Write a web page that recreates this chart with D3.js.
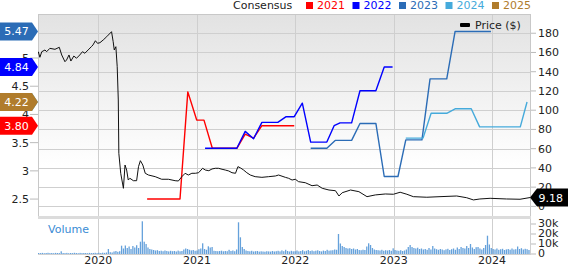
<!DOCTYPE html>
<html><head><meta charset="utf-8">
<script src="https://cdn.jsdelivr.net/npm/d3@7"></script>
<style>
body{margin:0;background:#fff;overflow:hidden}
text{font-family:"DejaVu Sans",Verdana,sans-serif;font-size:11px}
</style>
</head><body>
<svg id="c" width="568" height="265"></svg>
<script>
// ---------------- DATA ----------------
const priceDates = ["2019-05-23","2019-05-29","2019-06-05","2019-06-17","2019-06-23","2019-07-05","2019-07-24","2019-08-09","2019-08-18","2019-08-30","2019-09-05","2019-09-14","2019-09-21","2019-10-02","2019-10-12","2019-10-24","2019-11-03","2019-11-12","2019-11-24","2019-12-06","2019-12-12","2019-12-21","2019-12-29","2020-01-07","2020-01-19","2020-02-01","2020-02-19","2020-02-25","2020-02-29","2020-03-06","2020-03-11","2020-03-15","2020-03-17","2020-03-24","2020-04-03","2020-04-09","2020-04-15","2020-04-21","2020-04-27","2020-05-10","2020-05-22","2020-05-29","2020-06-05","2020-06-14","2020-06-23","2020-07-05","2020-07-30","2020-08-23","2020-09-17","2020-10-12","2020-10-24","2020-11-06","2020-11-18","2020-11-30","2020-12-13","2020-12-26","2021-01-07","2021-01-22","2021-02-01","2021-02-14","2021-02-26","2021-03-10","2021-03-22","2021-04-04","2021-04-16","2021-04-29","2021-05-11","2021-05-24","2021-06-02","2021-06-12","2021-06-23","2021-07-05","2021-07-18","2021-08-05","2021-08-30","2021-09-24","2021-10-19","2021-10-31","2021-11-25","2021-12-07","2021-12-20","2022-01-01","2022-01-13","2022-02-07","2022-03-04","2022-03-23","2022-04-11","2022-05-06","2022-05-30","2022-06-12","2022-06-24","2022-07-25","2022-08-25","2022-09-24","2022-10-25","2022-12-01","2022-12-31","2023-01-25","2023-02-19","2023-03-15","2023-05-04","2023-06-22","2023-08-23","2023-09-29","2023-10-24","2023-11-17","2023-12-25","2024-02-24","2024-04-14","2024-05-21"];
const priceValues = [160.8,155.0,160.8,162.6,160.8,164.3,163.3,165.4,157.4,150.4,152.2,157.4,151.1,156.3,154.0,157.4,160.8,159.2,162.6,166.0,167.8,172.2,169.5,170.2,173.0,176.4,181.6,171.2,162.6,166.0,145.2,110.6,55.2,34.4,18.8,43.0,37.8,27.4,29.2,26.7,26.7,41.3,47.5,43.0,34.4,32.6,30.9,28.2,28.2,26.7,26.4,30.9,34.4,32.6,34.4,34.4,35.0,39.6,37.8,37.1,38.9,39.6,39.6,38.6,37.8,36.8,35.0,34.4,41.3,39.9,37.8,35.0,32.6,30.9,30.2,30.9,31.6,32.6,30.2,29.2,27.4,28.2,25.7,24.6,21.5,22.2,18.8,17.0,16.3,10.8,14.2,17.0,15.3,10.1,11.9,12.9,12.6,14.7,12.6,10.1,9.5,10.1,10.8,9.0,6.7,7.7,8.4,7.7,7.4,9.18];

const seriesNames  = ["2021","2022","2023","2024","2025"];
const seriesColors = ["#ff0000","#0000ff","#2b6cb6","#45aadb","#b07c2c"];

const eps2021Dates  = ["2020-06-30","2020-10-30","2020-11-28","2020-12-31","2021-01-27","2021-02-27","2021-05-29","2021-06-29","2021-07-30","2021-08-30","2021-12-28"];
const eps2021Values = [2.50,2.50,4.40,3.90,3.90,3.40,3.40,3.65,3.58,3.80,3.80];

const eps2022Dates  = ["2021-01-31","2021-05-29","2021-06-29","2021-07-30","2021-08-30","2021-10-28","2021-11-28","2021-12-28","2022-01-27","2022-02-27","2022-04-28","2022-05-25","2022-06-16","2022-07-29","2022-08-29","2022-10-27","2022-11-27","2022-12-28"];
const eps2022Values = [3.40,3.40,3.70,3.57,3.86,3.86,3.96,3.96,4.20,3.51,3.51,3.80,3.85,3.85,4.42,4.42,4.84,4.84];

const eps2023Dates  = ["2022-02-27","2022-04-28","2022-05-29","2022-07-29","2022-08-29","2022-10-27","2022-11-27","2023-01-17","2023-02-15","2023-04-16","2023-05-16","2023-07-17","2023-08-17","2023-12-28"];
const eps2023Values = [3.40,3.40,3.54,3.54,3.84,3.84,2.90,2.90,3.55,3.55,4.63,4.63,5.47,5.47];

const eps2024Dates  = ["2023-02-15","2023-04-20","2023-05-20","2023-07-17","2023-08-17","2023-10-16","2023-11-16","2024-04-15","2024-05-10"];
const eps2024Values = [3.58,3.58,4.02,4.02,4.10,4.10,3.78,3.78,4.22];

const eps2025Dates  = ["2024-05-10"];
const eps2025Values = [4.22];

// weekly volume (thousands), weeks starting 2019-05-24
const volumeStart = "2019-05-24";
const volumeValues = [
 1.0,0.9,1.1,0.8,1.0,1.2,0.9,1.0,0.8,1.1,1.0,0.9,2.7,1.0,0.9,1.1,0.8,1.0,0.9,1.2,1.0,0.8,1.1,0.9,1.0,1.0,0.8,1.1,0.9,1.0,1.2,0.9,
 1.2,1.0,1.3,1.1,1.5,5.0,1.8,1.5,2.5,3.0,2.2,2.8,8.3,5.5,8.5,6.0,7.5,5.0,8.0,6.5,8.8,6.0,12.3,32.7,12.3,10.0,6.5,5.0,4.5,4.0,3.5,3.8,3.0,3.3,2.8,3.5,3.0,2.6,3.2,2.8,3.0,2.5,3.4,2.7,3.0,4.5,5.5,5.0,4.2,3.6,4.0,3.2,
 3.5,4.8,5.5,10.7,5.0,4.2,7.7,6.5,7.0,3.2,3.0,2.8,3.0,3.3,2.7,3.0,2.8,4.2,3.0,3.5,2.8,4.5,31.7,16.7,7.0,5.0,3.5,3.0,2.7,3.2,2.5,2.8,3.0,2.4,2.7,2.5,2.3,2.8,2.6,2.4,3.0,2.5,2.8,3.2,2.6,3.6,2.8,4.2,3.0,2.5,3.2,2.7,
 2.8,3.5,2.6,3.0,3.8,2.7,3.2,4.0,3.0,3.5,2.8,3.3,3.7,3.0,2.6,3.4,3.0,4.2,3.3,3.6,3.8,4.5,4.2,20.0,10.5,8.0,7.0,6.0,5.5,5.8,5.0,5.5,4.5,5.0,4.0,3.8,4.3,4.0,7.5,10.7,9.0,6.0,4.5,4.0,3.8,3.5,4.2,3.3,3.8,3.5,4.0,3.2,
 5.7,4.0,3.5,3.2,3.8,3.0,3.5,4.5,7.0,9.0,7.0,6.0,5.5,6.3,5.0,5.5,4.5,5.0,4.2,6.0,4.5,8.0,5.5,4.8,4.2,5.0,4.5,3.8,4.6,5.2,4.0,4.8,5.5,4.2,6.5,5.0,7.0,6.0,5.5,8.0,6.0,10.0,6.5,5.0,6.8,7.0,5.5,4.5,6.0,9.0,18.3,9.5,
 6.0,5.0,4.5,5.5,4.2,4.8,5.2,4.0,4.6,5.0,4.3,5.5,4.5,4.8,7.5,5.0,5.8,4.5,5.2,4.8,4.0
];

const yearTicks   = ["2020","2021","2022","2023","2024"];
const priceTicks  = [0,20,40,60,80,100,120,140,160,180];
const epsTicks    = [2.5,3,3.5,4,4.5,5];
const volTicks    = [0,10,20,30];
const volTickLabels = ["0","10k","20k","30k"];

// ---------------- CHART ----------------
const P = {l:38, r:531, t:14, b:216, vt:219, vb:254};
const parse = d3.utcParse("%Y-%m-%d");
const svg = d3.select("#c");

const x = d3.scaleUtc().domain([parse("2019-05-22"), parse("2024-05-21")]).range([P.l, 530]);
const yP = d3.scaleLinear().domain([-10, 200]).range([P.b, P.t]);
const yE = d3.scaleLinear().domain([2.2, 5.78]).range([P.b, P.t]);
const yV = d3.scaleLinear().domain([0, 35]).range([P.vb, P.vt]);

const defs = svg.append("defs");
const g = defs.append("linearGradient").attr("id","bg").attr("x1",0).attr("y1",0).attr("x2",0).attr("y2",1);
g.append("stop").attr("offset","0%").attr("stop-color","#e2e2e2");
g.append("stop").attr("offset","75%").attr("stop-color","#ffffff");
defs.append("clipPath").attr("id","clipM").append("rect")
  .attr("x",P.l).attr("y",P.t).attr("width",P.r-P.l).attr("height",P.b-P.t);
defs.append("clipPath").attr("id","clipV").append("rect")
  .attr("x",P.l).attr("y",P.vt).attr("width",P.r-P.l).attr("height",P.vb-P.vt);

// backgrounds
svg.append("rect").attr("x",P.l).attr("y",P.t).attr("width",P.r-P.l).attr("height",P.b-P.t).attr("fill","url(#bg)");

// horizontal grid
svg.append("g").selectAll("line").data(priceTicks).join("line")
  .attr("x1",P.l).attr("x2",P.r).attr("y1",d=>Math.round(yP(d))+0.5).attr("y2",d=>Math.round(yP(d))+0.5)
  .attr("stroke","#cfcfcf");
// vertical grid
svg.append("g").selectAll("line").data(yearTicks).join("line")
  .attr("x1",d=>Math.round(x(parse(d+"-01-01")))+0.5).attr("x2",d=>Math.round(x(parse(d+"-01-01")))+0.5)
  .attr("y1",P.t).attr("y2",P.vb).attr("stroke","#cfcfcf");

// borders
svg.append("rect").attr("x",P.l+0.5).attr("y",P.t+0.5).attr("width",P.r-P.l-1).attr("height",P.b-P.t)
  .attr("fill","none").attr("stroke","#c8c8c8");
svg.append("rect").attr("x",P.l).attr("y",P.b).attr("width",P.r-P.l).attr("height",3).attr("fill","#dcdcdc");
svg.append("line").attr("x1",P.l).attr("x2",P.r).attr("y1",P.vb+0.5).attr("y2",P.vb+0.5).attr("stroke","#d0d0d0");
svg.append("line").attr("x1",P.r-0.5).attr("x2",P.r-0.5).attr("y1",P.vt).attr("y2",P.vb).attr("stroke","#d0d0d0");

// left ticks & labels
svg.append("g").selectAll("line").data(epsTicks).join("line")
  .attr("x1",30).attr("x2",P.l).attr("y1",d=>yE(d)).attr("y2",d=>yE(d)).attr("stroke","#bbb");
svg.append("g").selectAll("text").data(epsTicks).join("text")
  .attr("x",29).attr("y",d=>yE(d)).attr("dy","0.36em").attr("text-anchor","end").attr("fill","#222")
  .text(d=>d3.format("")(d));

// right ticks & labels
svg.append("g").selectAll("line").data(priceTicks).join("line")
  .attr("x1",P.r).attr("x2",P.r+5).attr("y1",d=>yP(d)).attr("y2",d=>yP(d)).attr("stroke","#bbb");
svg.append("g").selectAll("text").data(priceTicks).join("text")
  .attr("x",538).attr("y",d=>yP(d)).attr("dy","0.36em").attr("fill","#222").text(d=>d);
svg.append("g").selectAll("line").data(volTicks).join("line")
  .attr("x1",P.r).attr("x2",P.r+5).attr("y1",d=>yV(d)).attr("y2",d=>yV(d)).attr("stroke","#bbb");
svg.append("g").selectAll("text").data(volTicks).join("text")
  .attr("x",538).attr("y",d=>yV(d)-1).attr("dy","0.36em").attr("fill","#222").text((d,i)=>volTickLabels[i]);

// year labels
svg.append("g").selectAll("text").data(yearTicks).join("text")
  .attr("x",d=>x(parse(d+"-01-01"))).attr("y",263.5).attr("text-anchor","middle").attr("fill","#222").text(d=>d);

// volume
const vol = volumeValues.map((v,i)=>({date:d3.utcDay.offset(parse(volumeStart), 7*i), v}));
svg.append("g").attr("clip-path","url(#clipV)").selectAll("rect").data(vol).join("rect")
  .attr("x",d=>x(d.date)-0.6).attr("width",1.3)
  .attr("y",d=>yV(d.v)).attr("height",d=>yV(0)-yV(d.v))
  .attr("fill","#3f8ad2").attr("fill-opacity",0.8);
svg.append("text").attr("x",48).attr("y",232.5).attr("fill","#3a8bd4").text("Volume");

// consensus lines
const epsSeries = [
  {name:"2021", dates:eps2021Dates, values:eps2021Values},
  {name:"2022", dates:eps2022Dates, values:eps2022Values},
  {name:"2023", dates:eps2023Dates, values:eps2023Values},
  {name:"2024", dates:eps2024Dates, values:eps2024Values},
  {name:"2025", dates:eps2025Dates, values:eps2025Values}
].map((s,i)=>({...s, color:seriesColors[i], pts:s.dates.map((d,j)=>({date:parse(d), v:s.values[j]}))}));

const eLine = d3.line().x(d=>x(d.date)).y(d=>yE(d.v));
const gm = svg.append("g").attr("clip-path","url(#clipM)");
gm.selectAll("path.eps").data(epsSeries.filter(s=>s.pts.length>1)).join("path")
  .attr("class","eps").attr("d",s=>eLine(s.pts)).attr("fill","none")
  .attr("stroke",s=>s.color).attr("stroke-width",1.4).attr("stroke-linejoin","round");

// price line
const price = priceDates.map((d,i)=>({date:parse(d), v:priceValues[i]}));
gm.append("path").attr("d",d3.line().x(d=>x(d.date)).y(d=>yP(d.v))(price))
  .attr("fill","none").attr("stroke","#111").attr("stroke-width",1);

// legends
svg.append("text").attr("x",233).attr("y",9).attr("fill","#222").text("Consensus");
let lx = 306;
seriesNames.forEach((n,i)=>{
  svg.append("rect").attr("x",lx).attr("y",2).attr("width",7).attr("height",7).attr("fill",seriesColors[i]);
  const t = svg.append("text").attr("x",lx+11).attr("y",9).attr("fill",seriesColors[i]).text(n);
  lx += 11 + t.node().getComputedTextLength() + 7.5;
});
svg.append("rect").attr("x",460).attr("y",23).attr("width",10).attr("height",4).attr("rx",1).attr("fill","#000");
svg.append("text").attr("x",475).attr("y",29).attr("fill","#222").text("Price ($)");

// left value tags (last consensus values)
const tagOrder = ["2021","2024","2025","2022","2023"];
tagOrder.forEach(n=>{
  const s = epsSeries.find(e=>e.name===n);
  const last = s.pts[s.pts.length-1].v;
  const cy = yE(last);
  svg.append("polygon")
    .attr("points",[[0,cy-9],[32,cy-9],[38,cy],[32,cy+9],[0,cy+9]].map(p=>p.join(",")).join(" "))
    .attr("fill",s.color);
  svg.append("text").attr("x",16.5).attr("y",cy).attr("dy","0.36em").attr("text-anchor","middle")
    .attr("fill","#fff").text(d3.format(".2f")(last));
});

// right price tag
const lastP = price[price.length-1].v, py = yP(lastP);
svg.append("polygon")
  .attr("points",[[530,py],[537,py-9],[568,py-9],[568,py+9],[537,py+9]].map(p=>p.join(",")).join(" "))
  .attr("fill","#000");
svg.append("text").attr("x",538.5).attr("y",py).attr("dy","0.36em").attr("fill","#fff").text(d3.format(".2f")(lastP));
</script>
</body></html>
